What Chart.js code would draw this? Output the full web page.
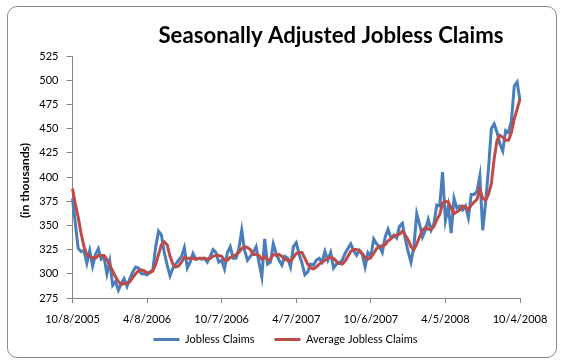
<!DOCTYPE html>
<html>
<head>
<meta charset="utf-8">
<script src="https://cdn.jsdelivr.net/npm/chart.js@4.4.1/dist/chart.umd.min.js"></script>
<style>
  html, body { margin: 0; padding: 0; background: #fff; }
  #wrap { position: relative; width: 571px; height: 364px; }
  #frame { position: absolute; left: 7px; top: 6px; width: 548px; height: 350px; border: 1px solid #8a8a8a; border-radius: 10px; }
  #chart { position: absolute; left: 0; top: 0; }
</style>
</head>
<body>
<div id="wrap">
  <div id="frame"></div>
  <canvas id="chart" width="571" height="364"></canvas>
</div>
<script>
const chartTitle = 'Seasonally Adjusted Jobless Claims';
const yAxisTitle = '(in thousands)';
const seriesNames = ['Jobless Claims', 'Average Jobless Claims'];
const tickLabels = ['10/8/2005', '4/8/2006', '10/7/2006', '4/7/2007', '10/6/2007', '4/5/2008', '10/4/2008'];
const yMin = 275, yMax = 525, yStep = 25;

// weekly claims, thousands
const joblessClaims = [
    378, 352, 326, 323, 324, 311, 324, 308, 320, 326,
    315, 317, 300, 313, 288, 292, 283, 290, 295, 287,
    295, 302, 307, 306, 300, 300, 299, 302, 304, 328,
    344, 340, 322, 309, 298, 306, 310, 314, 318, 327,
    306, 312, 321, 315, 316, 315, 316, 312, 318, 325,
    322, 312, 314, 305, 322, 328, 316, 316, 326, 345,
    324, 314, 318, 322, 328, 312, 297, 336, 310, 312,
    331, 321, 314, 309, 318, 316, 307, 328, 332, 320,
    311, 299, 302, 310, 309, 314, 316, 312, 323, 314,
    322, 306, 310, 311, 314, 321, 326, 331, 324, 319,
    324, 320, 307, 322, 318, 336, 331, 328, 322, 338,
    346, 337, 340, 337, 349, 352, 336, 323, 312, 328,
    362, 351, 338, 345, 356, 345, 352, 371, 370, 405,
    355, 370, 342, 378, 368, 370, 366, 370, 358, 382,
    382, 385, 401, 345, 373, 408, 450, 455, 446, 434,
    427, 448, 446, 458, 494, 498, 479
];

const averageClaims = [
    388, 372, 358, 342, 328, 320, 318, 317, 316, 319,
    319, 319, 315, 309, 303, 297, 292, 289, 290, 290,
    292, 296, 300, 303, 304, 303, 301, 301, 303, 310,
    320, 330, 333, 330, 318, 310, 307, 308, 312, 317,
    316, 316, 316, 315, 316, 316, 316, 315, 316, 318,
    319, 319, 318, 314, 314, 317, 318, 320, 322, 326,
    328, 327, 325, 320, 320, 319, 315, 318, 314, 315,
    320, 319, 320, 318, 315, 314, 313, 317, 321, 322,
    322, 316, 310, 306, 305, 307, 310, 312, 314, 316,
    317, 316, 313, 311, 310, 313, 318, 323, 325, 325,
    324, 321, 317, 315, 317, 321, 326, 328, 329, 330,
    334, 336, 339, 340, 341, 344, 340, 335, 328, 325,
    331, 338, 345, 348, 346, 346, 349, 356, 361, 373,
    375, 374, 368, 362, 364, 366, 370, 369, 366, 371,
    374, 377, 387, 378, 376, 382, 393, 419, 438, 443,
    441, 438, 438, 446, 460, 470, 481
];

// one category per week, starting 10/8/2005
const weeks = [];
for (let i = 0; i < joblessClaims.length; i++) {
    const d = new Date(2005, 9, 8 + i * 7);
    weeks.push((d.getMonth() + 1) + '/' + d.getDate() + '/' + d.getFullYear());
}
// a tick label every half year (26 weeks)
const tickStep = (weeks.length - 1) / (tickLabels.length - 1);

// fit a bold string to a given width
function fitFont(ctx, text, width) {
    ctx.font = 'bold 20px Lato';
    const size = 20 * width / ctx.measureText(text).width;
    return 'bold ' + size.toFixed(2) + 'px Lato';
}

const titlesPlugin = {
    id: 'titles',
    afterLayout(chart) {
        // pull the legend up under the date labels, keep its bottom edge
        chart.legend.top -= 14;
        chart.legend.height += 14;
    },
    afterDraw(chart) {
        const ctx = chart.ctx;
        ctx.save();
        ctx.fillStyle = '#000';
        ctx.textAlign = 'center';
        ctx.textBaseline = 'alphabetic';
        ctx.font = fitFont(ctx, chartTitle, 345);
        ctx.fillText(chartTitle, 331, 43);

        ctx.translate(25.5, 180.5);
        ctx.rotate(-Math.PI / 2);
        ctx.font = fitFont(ctx, yAxisTitle, 75);
        ctx.textBaseline = 'middle';
        ctx.fillText(yAxisTitle, 0, 0);
        ctx.restore();
    }
};

function draw() {
    Chart.defaults.font.family = 'Lato';
    Chart.defaults.color = '#000';

    new Chart(document.getElementById('chart'), {
        type: 'line',
        data: {
            labels: weeks,
            datasets: [{
                label: seriesNames[0],
                data: joblessClaims,
                borderColor: '#4a7ebb',
                backgroundColor: '#4a7ebb',
                borderWidth: 3,
                pointRadius: 0,
                tension: 0,
                order: 2
            }, {
                label: seriesNames[1],
                data: averageClaims,
                borderColor: '#be4b48',
                backgroundColor: '#be4b48',
                borderWidth: 3,
                pointRadius: 0,
                tension: 0,
                order: 1
            }]
        },
        options: {
            responsive: false,
            animation: false,
            devicePixelRatio: 1,
            layout: { padding: { top: 56, bottom: 9, left: 0, right: 0 } },
            plugins: {
                title: { display: false },
                tooltip: { enabled: false },
                legend: {
                    position: 'bottom',
                    maxHeight: 27,
                    labels: {
                        boxWidth: 26,
                        boxHeight: 3,
                        padding: 20,
                        font: { size: 11 },
                        sort: (a, b) => a.datasetIndex - b.datasetIndex,
                        generateLabels: chart => Chart.defaults.plugins.legend.labels.generateLabels(chart)
                            .map(item => Object.assign(item, { lineWidth: 0 }))
                    }
                }
            },
            scales: {
                x: {
                    offset: false,
                    grid: {
                        drawOnChartArea: false,
                        tickLength: 5,
                        color: c => (c.index % tickStep === 0 ? '#868686' : 'rgba(0,0,0,0)')
                    },
                    border: { color: '#868686' },
                    ticks: {
                        autoSkip: false,
                        maxRotation: 0,
                        padding: 10,
                        font: { size: 11 },
                        callback: (value, index) => (index % tickStep === 0 ? tickLabels[index / tickStep] : '')
                    },
                    afterFit: s => { s.height = 30; }
                },
                y: {
                    min: yMin,
                    max: yMax,
                    grid: { drawOnChartArea: false, tickLength: 6, color: '#868686' },
                    border: { color: '#868686' },
                    ticks: { stepSize: yStep, padding: 8, font: { size: 11 } },
                    afterFit: s => { s.width = 72.5; }
                },
                yRight: {
                    position: 'right',
                    grid: { display: false },
                    ticks: { display: false },
                    border: { display: false },
                    afterFit: s => { s.width = 51; }
                }
            }
        },
        plugins: [titlesPlugin]
    });
}

document.fonts.load('bold 11px Lato').then(draw, draw);
</script>
</body>
</html>
